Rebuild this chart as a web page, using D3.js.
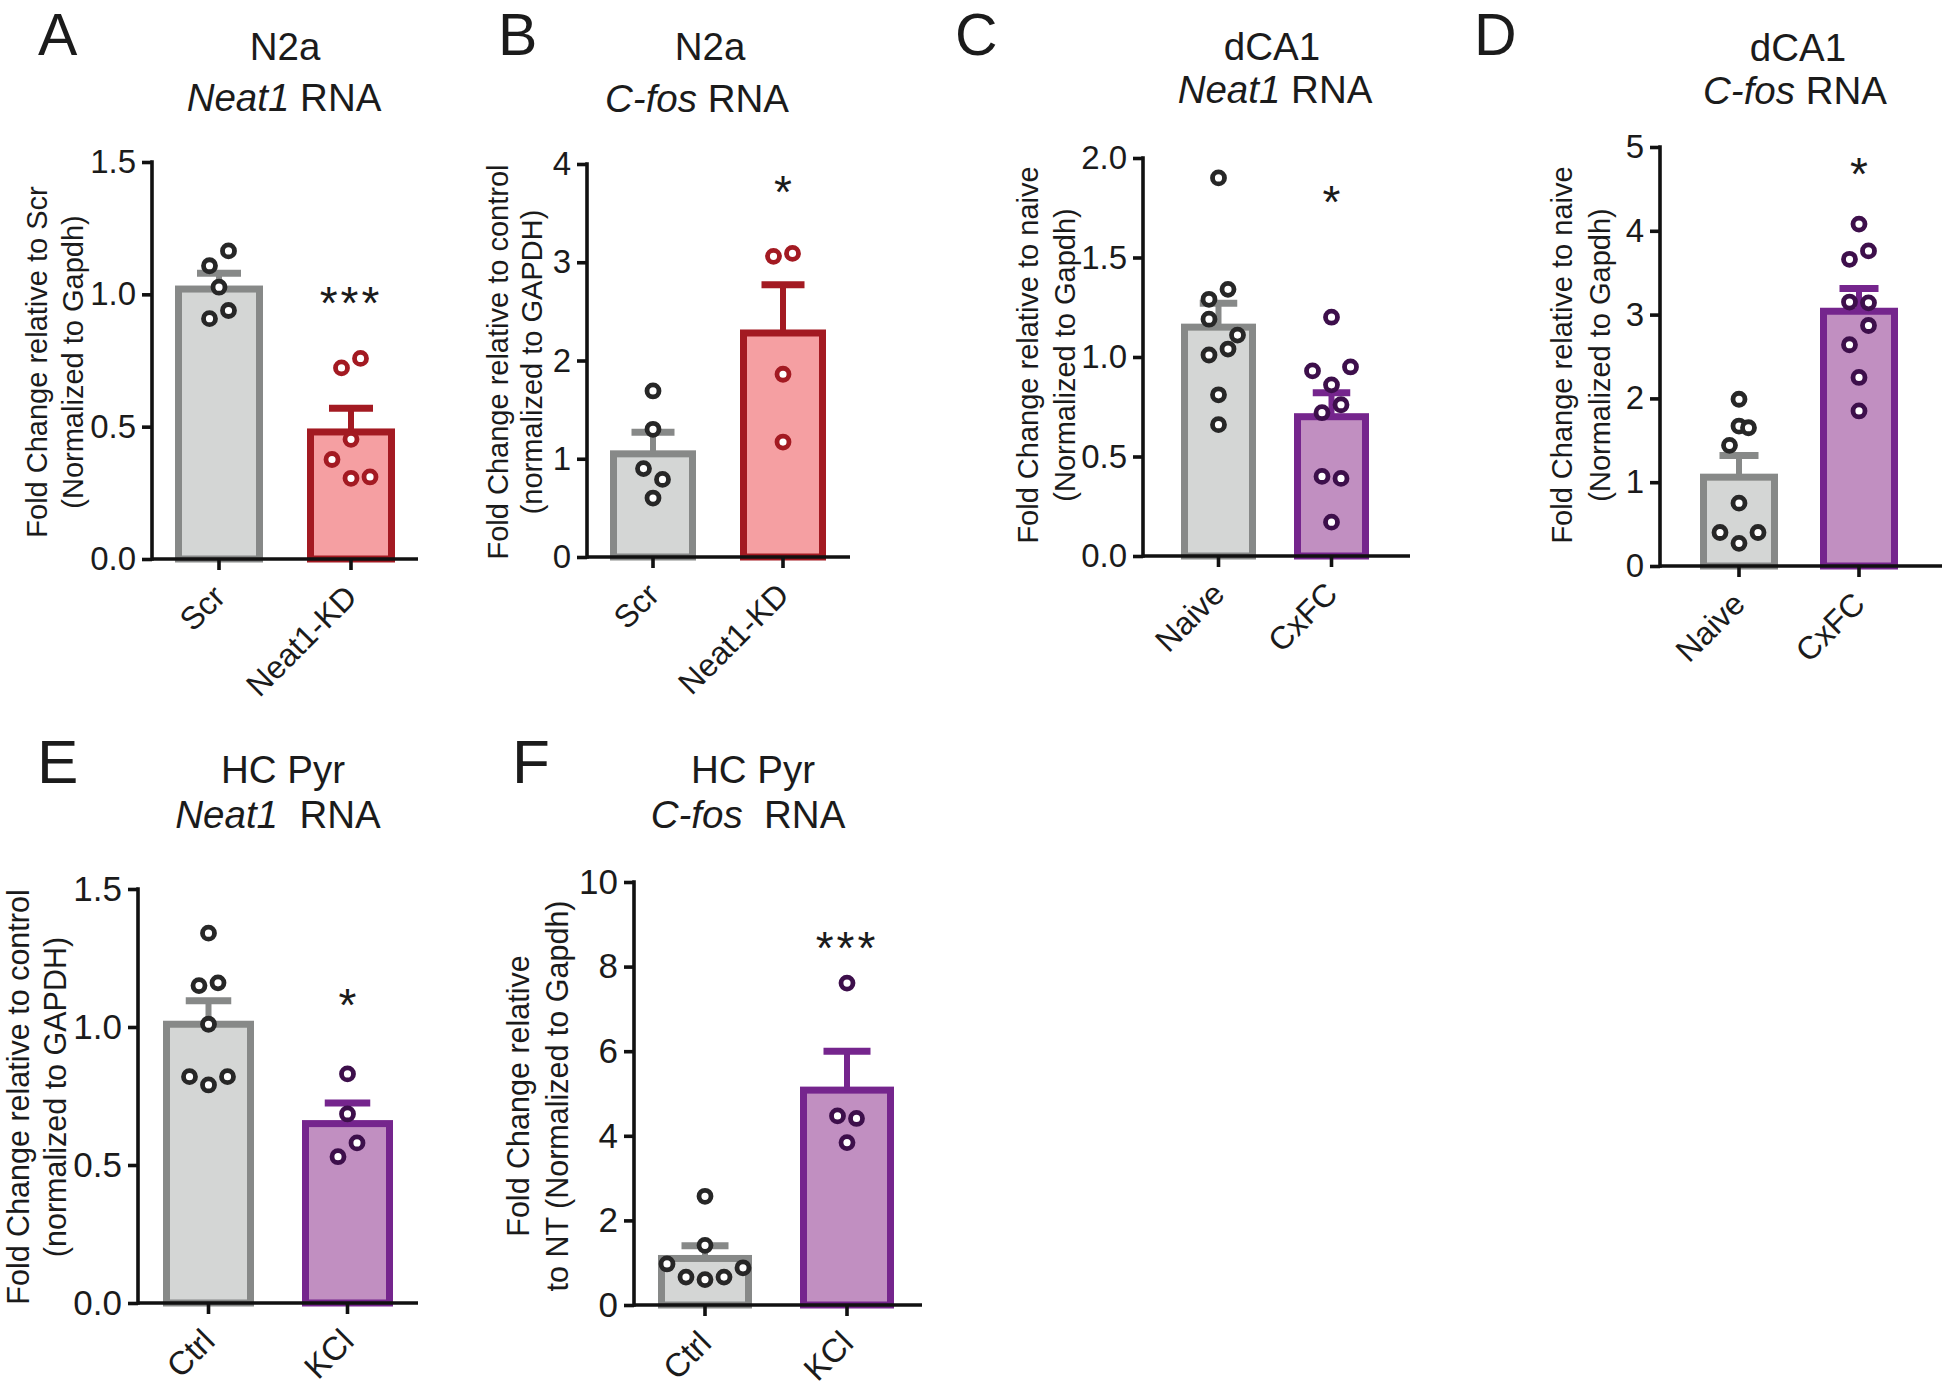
<!DOCTYPE html>
<html><head><meta charset="utf-8">
<script src="https://cdn.jsdelivr.net/npm/d3@7"></script>
<style>
body{margin:0;background:#fff}
svg{display:block}
text{font-family:"Liberation Sans",Arial,Helvetica,sans-serif;fill:#1b1b1b;white-space:pre}
</style>
</head><body>
<svg id="fig" width="1950" height="1394"></svg>
<script>
// ---------------- DATA ----------------
// Panel A : N2a, Neat1 RNA
const catA = ["Scr", "Neat1-KD"];
const meanA = [1.02, 0.48];
const semA = [0.06, 0.09];
const dotsA = [[1.108, 1.164, 1.027, 0.908, 0.939], [0.722, 0.758, 0.452, 0.376, 0.305, 0.310]];
const laneA = [[-0.5, 0.5, 0, -0.5, 0.5], [-0.5, 0.5, 0, -1, 0, 1]];
const ticksA = [0, 0.5, 1.0, 1.5];
const starA = {label: "***", group: 1, value: 1.005};

// Panel B : N2a, C-fos RNA
const catB = ["Scr", "Neat1-KD"];
const meanB = [1.05, 2.28];
const semB = [0.22, 0.49];
const dotsB = [[1.69, 1.30, 0.90, 0.79, 0.60], [3.06, 3.09, 1.86, 1.17]];
const laneB = [[0, 0, -0.5, 0.5, 0], [-0.5, 0.5, 0, 0]];
const ticksB = [0, 1, 2, 3, 4];
const starB = {label: "*", group: 1, value: 3.82};

// Panel C : dCA1, Neat1 RNA
const catC = ["Naive", "CxFC"];
const meanC = [1.15, 0.70];
const semC = [0.12, 0.12];
const dotsC = [[1.90, 1.29, 1.34, 1.19, 1.11, 1.01, 1.04, 0.81, 0.66], [1.20, 0.93, 0.95, 0.86, 0.76, 0.72, 0.40, 0.39, 0.17]];
const laneC = [[0, -0.5, 0.5, -0.5, 1, -0.5, 0.5, 0, 0], [0, -1, 1, 0, 0.5, -0.5, -0.5, 0.5, 0]];
const ticksC = [0, 0.5, 1.0, 1.5, 2.0];
const starC = {label: "*", group: 1, value: 1.83};

// Panel D : dCA1, C-fos RNA
const catD = ["Naive", "CxFC"];
const meanD = [1.06, 3.04];
const semD = [0.26, 0.27];
const dotsD = [[1.99, 1.67, 1.65, 1.44, 0.75, 0.40, 0.40, 0.27], [4.08, 3.66, 3.76, 3.15, 3.14, 2.87, 2.64, 2.25, 1.85]];
const laneD = [[0, 0, 0.5, -0.5, 0, -1, 1, 0], [0, -0.5, 0.5, -0.5, 0.5, 0.5, -0.5, 0, 0]];
const ticksD = [0, 1, 2, 3, 4, 5];
const starD = {label: "*", group: 1, value: 4.80};

// Panel E : HC Pyr, Neat1 RNA
const catE = ["Ctrl", "KCl"];
const meanE = [1.01, 0.65];
const semE = [0.085, 0.075];
const dotsE = [[1.34, 1.15, 1.16, 1.01, 0.82, 0.79, 0.82], [0.83, 0.685, 0.58, 0.53]];
const laneE = [[0, -0.5, 0.5, 0, -1, 0, 1], [0, 0, 0.5, -0.5]];
const ticksE = [0, 0.5, 1.0, 1.5];
const starE = {label: "*", group: 1, value: 1.115};

// Panel F : HC Pyr, C-fos RNA
const catF = ["Ctrl", "KCl"];
const meanF = [1.10, 5.08];
const semF = [0.30, 0.92];
const dotsF = [[2.57, 1.41, 0.97, 0.66, 0.60, 0.66, 0.88], [7.61, 4.47, 4.41, 3.84]];
const laneF = [[0, 0, -2, -1, 0, 1, 2], [0, -0.5, 0.5, 0]];
const ticksF = [0, 2, 4, 6, 8, 10];
const starF = {label: "***", group: 1, value: 8.68};

// ---------------- STYLE / LAYOUT ----------------
const palette = {
  gray:   {fill: "#d4d6d5", stroke: "#878988", dot: "#272727"},
  red:    {fill: "#f59fa2", stroke: "#a31a22", dot: "#a31a22"},
  purple: {fill: "#c18fc1", stroke: "#75258d", dot: "#3d0f4b"}
};

const panels = [
  {letter: "A", cats: catA, means: meanA, sems: semA, dots: dotsA, lanes: laneA, ticks: ticksA, fmt: ".1f", star: starA,
   colors: ["gray", "red"], t1: "N2a", gene: "Neat1", rna: " RNA",
   ylab: ["Fold Change relative to Scr", "(Normalized to Gapdh)"],
   g: {axisX: 152, axisEnd: 418, y0: 559, yTop: 162, barL: 175, barR: 395, bw: 88,
       letterXY: [38, 55], letterFs: 59, titleX: [285, 284], titleY: [60, 111], titleFs: 38.5,
       ylabX: [37, 73], ylabY: 362, ylabFs: 29, tickFs: 33, xFs: 32}},
  {letter: "B", cats: catB, means: meanB, sems: semB, dots: dotsB, lanes: laneB, ticks: ticksB, fmt: "d", star: starB,
   colors: ["gray", "red"], t1: "N2a", gene: "C-fos", rna: " RNA",
   ylab: ["Fold Change relative to control", "(normalized to GAPDH)"],
   g: {axisX: 587, axisEnd: 850, y0: 557, yTop: 164, barL: 610, barR: 826, bw: 86,
       letterXY: [498, 55], letterFs: 59, titleX: [710, 697], titleY: [60, 112], titleFs: 38.5,
       ylabX: [498, 532], ylabY: 362, ylabFs: 29, tickFs: 33, xFs: 32}},
  {letter: "C", cats: catC, means: meanC, sems: semC, dots: dotsC, lanes: laneC, ticks: ticksC, fmt: ".1f", star: starC,
   colors: ["gray", "purple"], t1: "dCA1", gene: "Neat1", rna: " RNA",
   ylab: ["Fold Change relative to naive", "(Normalized to Gapdh)"],
   g: {axisX: 1143, axisEnd: 1410, y0: 556, yTop: 158, barL: 1181, barR: 1369, bw: 75,
       letterXY: [955, 55], letterFs: 59, titleX: [1272, 1275], titleY: [60, 103], titleFs: 38.5,
       ylabX: [1028, 1065], ylabY: 355, ylabFs: 29, tickFs: 33, xFs: 32}},
  {letter: "D", cats: catD, means: meanD, sems: semD, dots: dotsD, lanes: laneD, ticks: ticksD, fmt: "d", star: starD,
   colors: ["gray", "purple"], t1: "dCA1", gene: "C-fos", rna: " RNA",
   ylab: ["Fold Change relative to naive", "(Normalized to Gapdh)"],
   g: {axisX: 1660, axisEnd: 1942, y0: 566, yTop: 147, barL: 1700, barR: 1898, bw: 78,
       letterXY: [1474, 55], letterFs: 59, titleX: [1798, 1795], titleY: [61, 104], titleFs: 38.5,
       ylabX: [1562, 1600], ylabY: 355, ylabFs: 29, tickFs: 33, xFs: 32}},
  {letter: "E", cats: catE, means: meanE, sems: semE, dots: dotsE, lanes: laneE, ticks: ticksE, fmt: ".1f", star: starE,
   colors: ["gray", "purple"], t1: "HC Pyr", gene: "Neat1", rna: "  RNA",
   ylab: ["Fold Change relative to control", "(normalized to GAPDH)"],
   g: {axisX: 138, axisEnd: 418, y0: 1303, yTop: 889, barL: 163, barR: 393, bw: 91,
       letterXY: [37, 783], letterFs: 62, titleX: [283, 278], titleY: [783, 828], titleFs: 38.5,
       ylabX: [18, 55], ylabY: 1097, ylabFs: 30.5, tickFs: 35, xFs: 33}},
  {letter: "F", cats: catF, means: meanF, sems: semF, dots: dotsF, lanes: laneF, ticks: ticksF, fmt: "d", star: starF,
   colors: ["gray", "purple"], t1: "HC Pyr", gene: "C-fos", rna: "  RNA",
   ylab: ["Fold Change relative", "to NT (Normalized to Gapdh)"],
   g: {axisX: 634, axisEnd: 922, y0: 1305, yTop: 882, barL: 658, barR: 894, bw: 94,
       letterXY: [512, 783], letterFs: 62, titleX: [753, 748], titleY: [783, 828], titleFs: 38.5,
       ylabX: [518, 557], ylabY: 1096, ylabFs: 30.5, tickFs: 35, xFs: 33}}
];

const svg = d3.select("#fig");
const AXW = 3.6, BARW = 7, ERRW = 6, DOTR = 6, DOTW = 4.8, LANE = 19;

panels.forEach(p => {
  const g = p.g;
  const root = svg.append("g");
  const y = d3.scaleLinear().domain([d3.min(p.ticks), d3.max(p.ticks)]).range([g.y0, g.yTop]);
  const step = g.barR - g.barL - g.bw;
  const x = d3.scaleBand().domain(p.cats).range([g.barL, g.barR])
              .paddingInner(1 - g.bw / step).paddingOuter(0);
  const bw = x.bandwidth();

  // panel letter
  root.append("text").attr("x", g.letterXY[0]).attr("y", g.letterXY[1])
      .attr("font-size", g.letterFs).text(p.letter);

  // titles
  root.append("text").attr("x", g.titleX[0]).attr("y", g.titleY[0])
      .attr("text-anchor", "middle").attr("font-size", g.titleFs).text(p.t1);
  const t2 = root.append("text").attr("x", g.titleX[1]).attr("y", g.titleY[1])
      .attr("text-anchor", "middle").attr("font-size", g.titleFs);
  t2.append("tspan").attr("font-style", "italic").text(p.gene);
  t2.append("tspan").text(p.rna);

  // y label
  p.ylab.forEach((s, i) => {
    root.append("text")
      .attr("transform", `translate(${g.ylabX[i]},${g.ylabY}) rotate(-90)`)
      .attr("text-anchor", "middle").attr("dominant-baseline", "central")
      .attr("font-size", g.ylabFs).text(s);
  });

  // bars
  p.cats.forEach((c, i) => {
    const col = palette[p.colors[i]];
    const x0 = x(c);
    root.append("rect")
      .attr("x", x0 + BARW / 2).attr("width", bw - BARW)
      .attr("y", y(p.means[i])).attr("height", y(0) - y(p.means[i]))
      .attr("fill", col.fill).attr("stroke", col.stroke).attr("stroke-width", BARW);
    // error bar (upper)
    const cx = x0 + bw / 2;
    const top = y(p.means[i] + p.sems[i]);
    const capW = bw * 0.5;
    root.append("line").attr("x1", cx).attr("x2", cx)
      .attr("y1", y(p.means[i])).attr("y2", top)
      .attr("stroke", col.stroke).attr("stroke-width", ERRW);
    root.append("line").attr("x1", cx - capW / 2).attr("x2", cx + capW / 2)
      .attr("y1", top).attr("y2", top)
      .attr("stroke", col.stroke).attr("stroke-width", ERRW + 1);
  });

  // axes
  const yAxis = d3.axisLeft(y).tickValues(p.ticks).tickFormat(d3.format(p.fmt))
      .tickSize(10).tickSizeOuter(0).tickPadding(6);
  const ya = root.append("g").attr("transform", `translate(${g.axisX},0)`).call(yAxis);
  ya.select(".domain").attr("stroke", "#111").attr("stroke-width", AXW)
    .attr("d", `M0,${g.y0 + AXW / 2}V${g.yTop - AXW / 2}`);
  ya.selectAll(".tick line").attr("stroke", "#111").attr("stroke-width", AXW);
  ya.selectAll(".tick text").attr("font-size", g.tickFs).attr("fill", "#1b1b1b")
    .attr("font-family", "'Liberation Sans',Arial,Helvetica,sans-serif");

  root.append("line").attr("x1", g.axisX).attr("x2", g.axisEnd)
    .attr("y1", g.y0).attr("y2", g.y0).attr("stroke", "#111").attr("stroke-width", AXW);

  const xAxis = d3.axisBottom(x).tickSize(11).tickSizeOuter(0);
  const xa = root.append("g").attr("transform", `translate(0,${g.y0})`).call(xAxis);
  xa.select(".domain").remove();
  xa.selectAll(".tick line").attr("stroke", "#111").attr("stroke-width", AXW);
  xa.selectAll(".tick text")
    .attr("font-size", g.xFs).attr("fill", "#1b1b1b")
    .attr("font-family", "'Liberation Sans',Arial,Helvetica,sans-serif")
    .attr("text-anchor", "end").attr("x", 0).attr("y", 0).attr("dy", "0.35em")
    .attr("transform", "translate(0,32) rotate(-45)");

  // dots
  p.cats.forEach((c, i) => {
    const col = palette[p.colors[i]];
    const cx = x(c) + bw / 2;
    root.append("g").selectAll("circle")
      .data(p.dots[i].map((v, k) => ({v, lane: p.lanes[i][k]})))
      .join("circle")
      .attr("cx", d => cx + d.lane * LANE).attr("cy", d => y(d.v))
      .attr("r", DOTR).attr("fill", "#fff")
      .attr("stroke", col.dot).attr("stroke-width", DOTW);
  });

  // significance stars
  const sFs = 46;
  root.append("text")
    .attr("x", x(p.cats[p.star.group]) + bw / 2)
    .attr("y", y(p.star.value) + 0.57 * sFs)
    .attr("text-anchor", "middle").attr("font-size", sFs)
    .attr("letter-spacing", p.star.label.length > 1 ? 3 : 0)
    .text(p.star.label);
});
</script>
</body></html>
